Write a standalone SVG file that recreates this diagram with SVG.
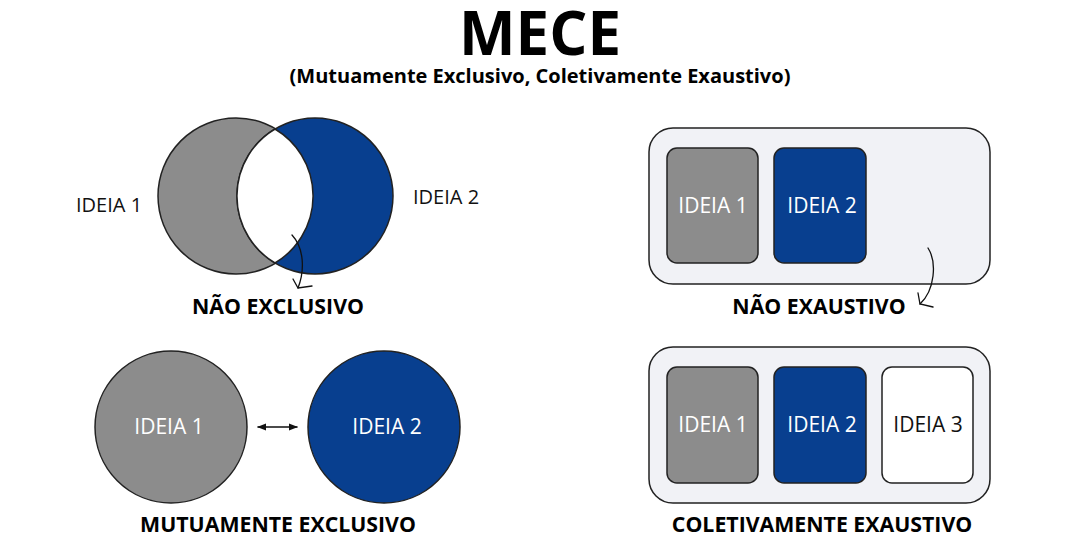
<svg xmlns="http://www.w3.org/2000/svg" width="1080" height="550" viewBox="0 0 1080 550">
<style>
.t{font-family:"Open Sans","Liberation Sans",sans-serif;}
.b{font-weight:700;fill:#000;text-anchor:middle;}
.lbl{font-size:21.3px;}
.id{font-size:21px;text-anchor:middle;}
.w{fill:#fff;}
.k{fill:#111;}
.gray{fill:#8c8c8c;stroke:#222;stroke-width:1.5;}
.blue{fill:#083f8f;stroke:#222;stroke-width:1.5;}
.white{fill:#fff;stroke:#222;stroke-width:1.5;}
.box{fill:#f1f2f6;stroke:#222;stroke-width:1.5;}
.ln{fill:none;stroke:#111;stroke-width:1.3;stroke-linecap:round;}
</style>
<defs>
<marker id="ah" viewBox="0 0 10 10" refX="9" refY="5" markerWidth="7" markerHeight="7" orient="auto-start-reverse">
<path d="M0,1 L10,5 L0,9 z" fill="#111"/>
</marker>
</defs>
<rect width="1080" height="550" fill="#fff"/>
<g id="title">
<text class="t b" x="540" y="55" font-size="60">MECE</text>
<text class="t b" x="540" y="83" font-size="20">(Mutuamente Exclusivo, Coletivamente Exaustivo)</text>
</g>
<g id="venn">
<circle class="gray" cx="236" cy="196" r="78"/>
<circle class="blue" cx="315" cy="196" r="78"/>
<path class="white" d="M275,129 A78,78 0 0,1 275,263 A78,78 0 0,1 275,129 Z"/>
<text class="t k" x="76" y="212" font-size="20">IDEIA 1</text>
<text class="t k" x="413" y="204" font-size="20">IDEIA 2</text>
<text class="t b lbl" x="278" y="314">NÃO EXCLUSIVO</text>
</g>
<g id="nao-exaustivo">
<rect class="box" x="649" y="128" width="341" height="156" rx="24"/>
<g id="ne-ideia1"><rect class="gray" x="667" y="148" width="91" height="115" rx="10"/><text class="t id w" x="713" y="213">IDEIA 1</text></g>
<g id="ne-ideia2"><rect class="blue" x="774" y="148" width="92" height="115" rx="10"/><text class="t id w" x="822" y="213">IDEIA 2</text></g>
<text class="t b lbl" x="819" y="314">NÃO EXAUSTIVO</text>
</g>
<g id="mutuamente">
<g id="me-ideia1"><circle class="gray" cx="171" cy="427" r="76"/><text class="t id w" x="169" y="434">IDEIA 1</text></g>
<g id="me-ideia2"><circle class="blue" cx="384" cy="427" r="76"/><text class="t id w" x="387" y="434">IDEIA 2</text></g>
<text class="t b lbl" x="278" y="532">MUTUAMENTE EXCLUSIVO</text>
</g>
<g id="coletivamente">
<rect class="box" x="649" y="347" width="341" height="156" rx="24"/>
<g id="ce-ideia1"><rect class="gray" x="667" y="367" width="91" height="116" rx="10"/><text class="t id w" x="713" y="432">IDEIA 1</text></g>
<g id="ce-ideia2"><rect class="blue" x="774" y="367" width="92" height="116" rx="10"/><text class="t id w" x="822" y="432">IDEIA 2</text></g>
<g id="ce-ideia3"><rect class="white" x="882" y="367" width="91" height="116" rx="10"/><text class="t id k" x="928" y="432">IDEIA 3</text></g>
<text class="t b lbl" x="822" y="532">COLETIVAMENTE EXAUSTIVO</text>
</g>
<g id="connectors">
<path class="ln" d="M292,235 C304,248 305,270 298,288"/>
<path class="ln" d="M293,279 L298,288 L312,286"/>
<path class="ln" d="M928,248 C937,262 935,290 920,304"/>
<path class="ln" d="M918,293 L920,304 L933,307"/>
<line class="ln" x1="258" y1="427" x2="297" y2="427" marker-start="url(#ah)" marker-end="url(#ah)"/>
</g>
</svg>
